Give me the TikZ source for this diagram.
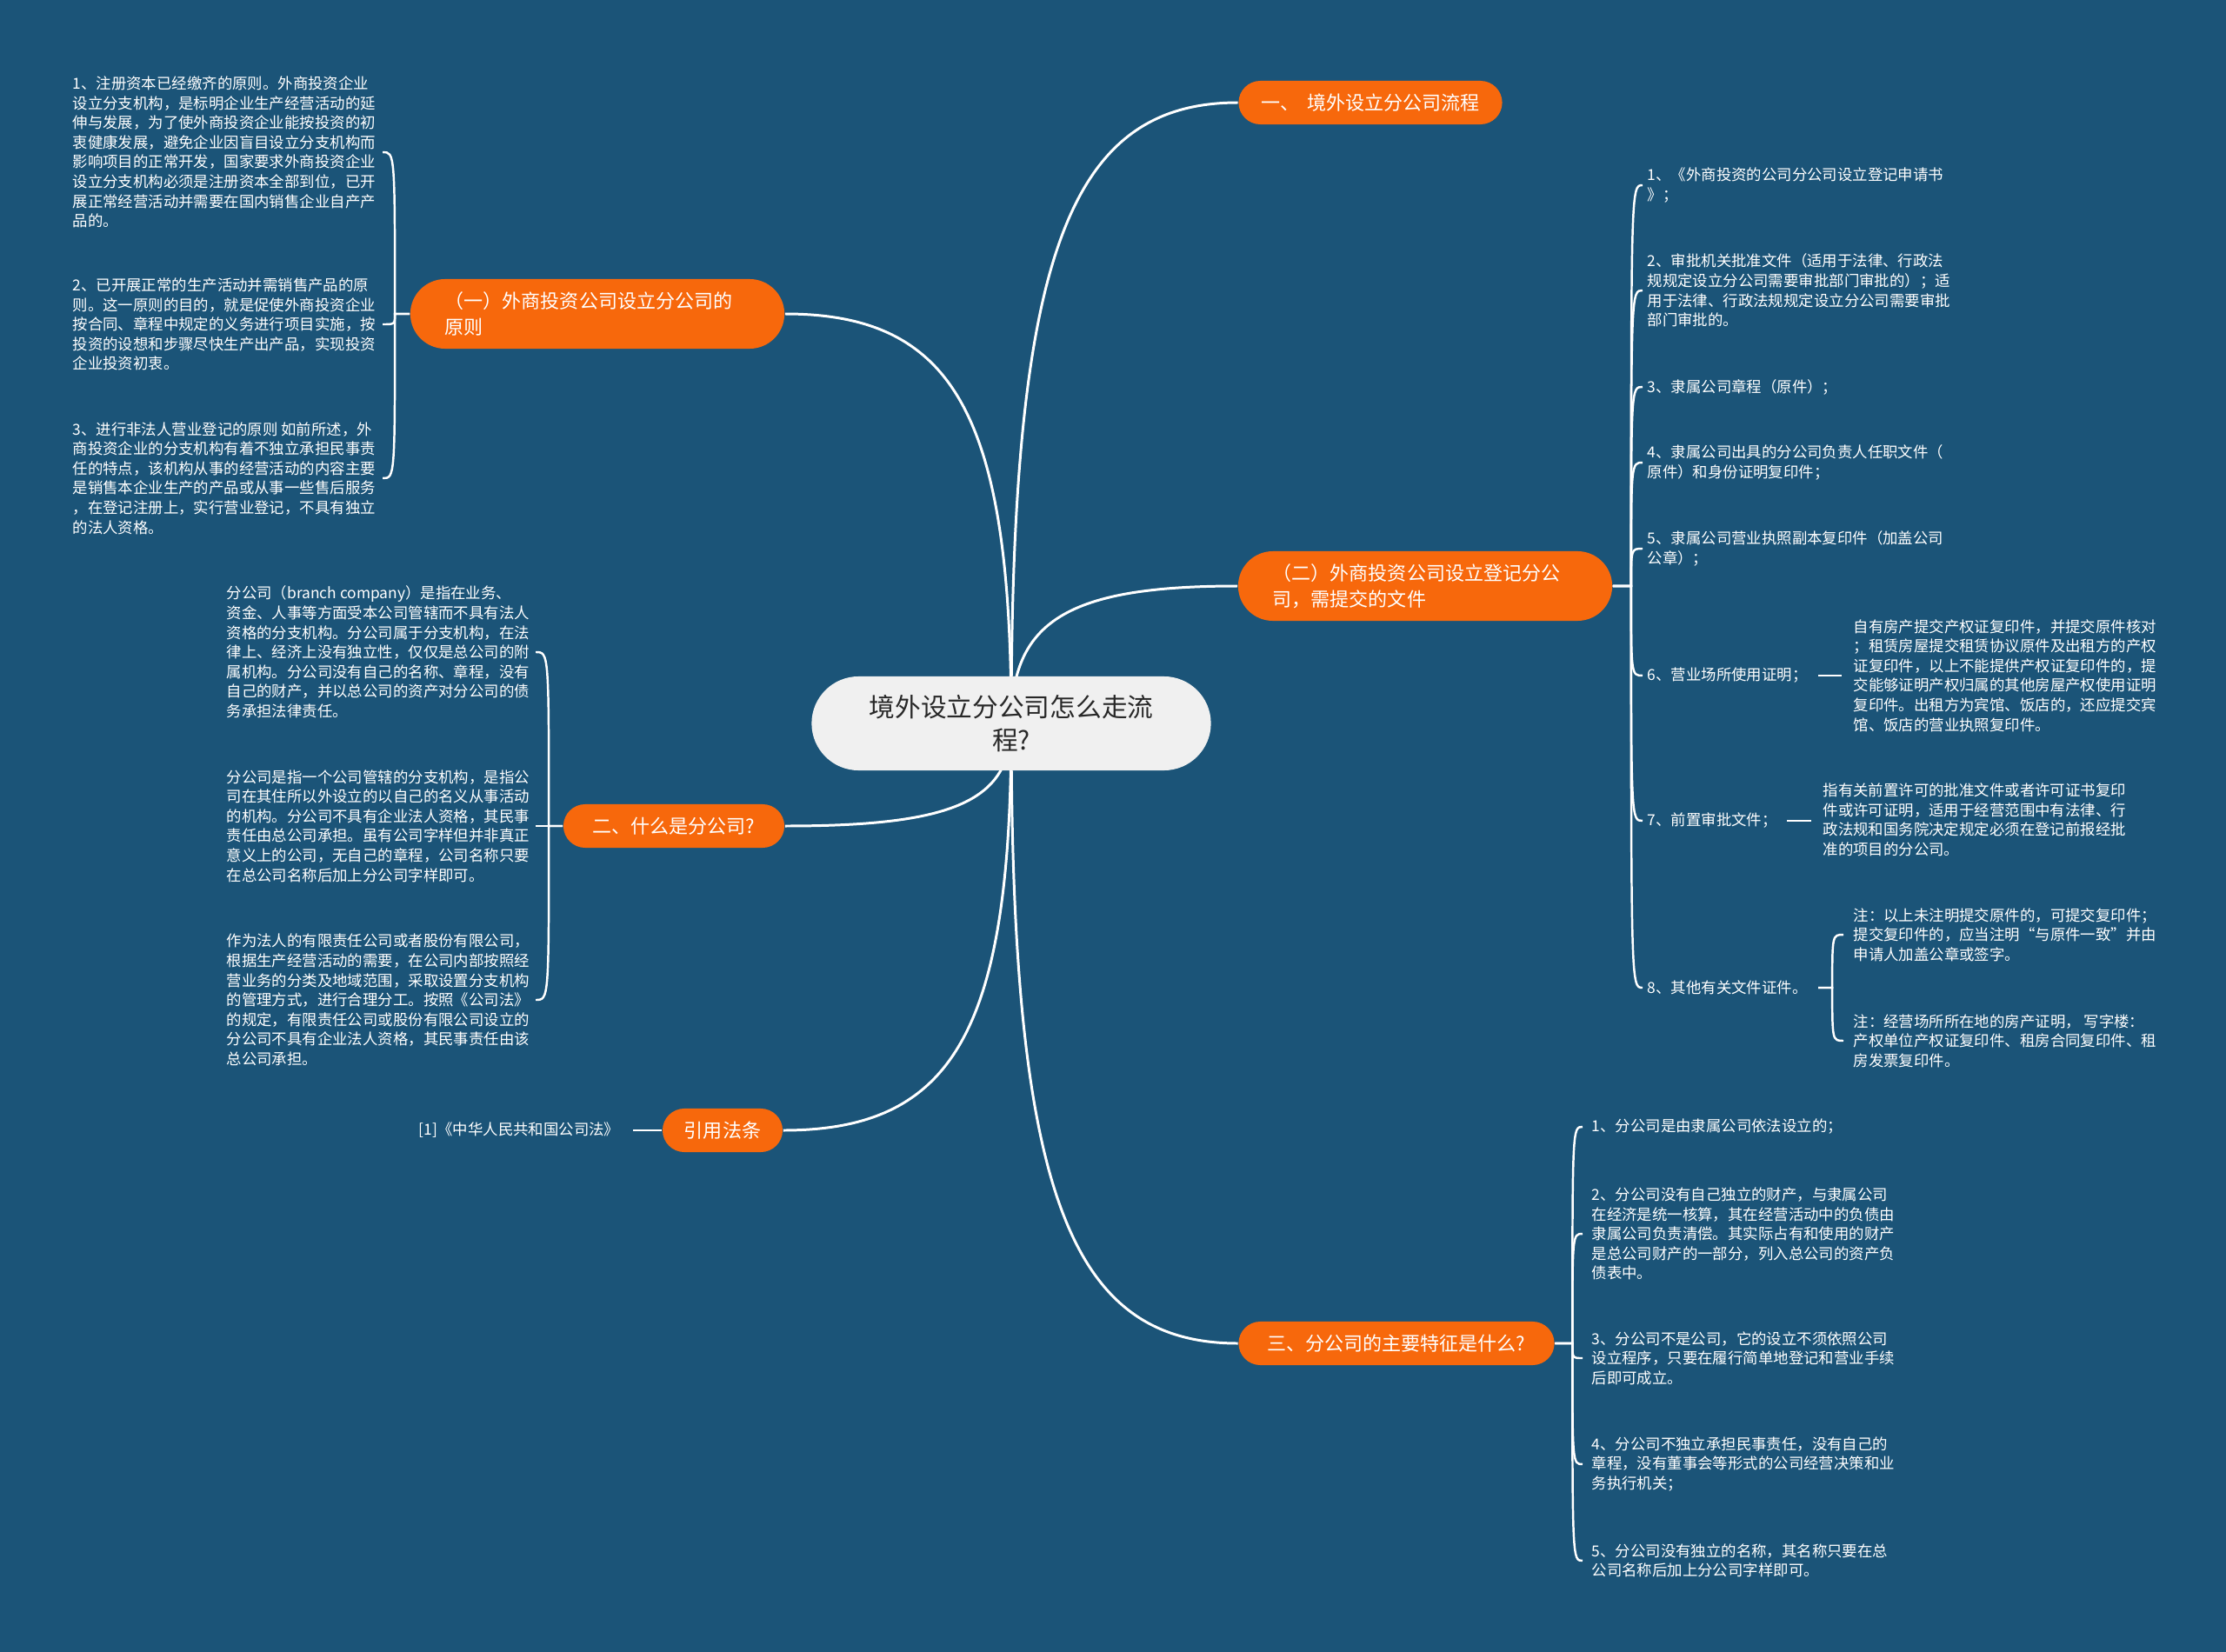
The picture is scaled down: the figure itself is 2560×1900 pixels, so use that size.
\documentclass[tikz,border=0pt]{standalone}
\usepackage{fontspec}
\setmainfont{Noto Sans CJK SC}
\definecolor{bgblue}{RGB}{27,84,120}
\definecolor{orng}{RGB}{247,104,12}
\definecolor{ctrfill}{RGB}{240,240,240}
\definecolor{ctrtext}{RGB}{40,40,40}
\pgfdeclarelayer{bg}\pgfdeclarelayer{edges}\pgfsetlayers{bg,edges,main}
\begin{document}
\begin{tikzpicture}[x=0.01cm,y=-0.01cm,
 txt/.style={font=\fontsize{4.95pt}{6.43pt}\selectfont, text=white, align=left, inner sep=0pt},
 onode/.style={fill=orng, text=white, font=\fontsize{6.26pt}{8.5pt}\selectfont, rounded corners=0.25cm, minimum height=0.5cm, inner sep=0pt},
 obig/.style={onode, rounded corners=0.4cm, minimum height=0.8cm, text width=3.5cm, inner xsep=0.4cm, align=left},
 ctr/.style={fill=ctrfill, text=ctrtext, font=\fontsize{8.45pt}{10.8pt}\selectfont, rounded corners=0.54cm, minimum width=4.59cm, minimum height=1.08cm, align=center, inner sep=0pt},
 trunk/.style={draw=white, line width=0.85pt},
 brace/.style={draw=white, line width=0.7pt}]
\useasboundingbox (0,0) rectangle (2560,1900);
\begin{pgfonlayer}{bg}
\fill[bgblue] (0,0) rectangle (2560,1900);
\end{pgfonlayer}

% main nodes
\node[ctr] (c) at (1163,832) {境外设立分公司怎么走流\\程?};
\node[onode, minimum width=3.03cm] (r1) at (1576,118) {一、\hspace{0.4em}境外设立分公司流程};
\node[obig] (r2) at (1639,674) {（二）外商投资公司设立登记分公\\司，需提交的文件};
\node[onode, minimum width=3.63cm] (r3) at (1606,1545) {三、分公司的主要特征是什么?};
\node[obig] (l1) at (687,361) {（一）外商投资公司设立分公司的\\原则};
\node[onode, minimum width=2.54cm] (l2) at (775,950) {二、什么是分公司?};
\node[onode, minimum width=1.38cm] (l3) at (831,1300) {引用法条};

% right group r2
\node[txt, anchor=west] (a1) at (1894,213) {1、《外商投资的公司分公司设立登记申请书\\》；};
\node[txt, anchor=west] (a2) at (1894,334) {2、审批机关批准文件（适用于法律、行政法\\规规定设立分公司需要审批部门审批的）；适\\用于法律、行政法规规定设立分公司需要审批\\部门审批的。};
\node[txt, anchor=west] (a3) at (1894,445) {3、隶属公司章程（原件）；};
\node[txt, anchor=west] (a4) at (1894,532) {4、隶属公司出具的分公司负责人任职文件（\\原件）和身份证明复印件；};
\node[txt, anchor=west] (a5) at (1894,631) {5、隶属公司营业执照副本复印件（加盖公司\\公章）；};
\node[txt, anchor=west] (a6) at (1894,777) {6、营业场所使用证明；};
\node[txt, anchor=west] (a7) at (1894,944) {7、前置审批文件；};
\node[txt, anchor=west] (a8) at (1894,1136) {8、其他有关文件证件。};
\node[txt, anchor=west] (a6c) at (2131,777) {自有房产提交产权证复印件，并提交原件核对\\；租赁房屋提交租赁协议原件及出租方的产权\\证复印件，以上不能提供产权证复印件的，提\\交能够证明产权归属的其他房屋产权使用证明\\复印件。出租方为宾馆、饭店的，还应提交宾\\馆、饭店的营业执照复印件。};
\node[txt, anchor=west] (a7c) at (2096,943) {指有关前置许可的批准文件或者许可证书复印\\件或许可证明，适用于经营范围中有法律、行\\政法规和国务院决定规定必须在登记前报经批\\准的项目的分公司。};
\node[txt, anchor=west] (a8a) at (2131,1075) {注：以上未注明提交原件的，可提交复印件；\\提交复印件的，应当注明“与原件一致”并由\\申请人加盖公章或签字。};
\node[txt, anchor=west] (a8b) at (2131,1197) {注：经营场所所在地的房产证明， 写字楼：\\产权单位产权证复印件、租房合同复印件、租\\房发票复印件。};

% right group r3
\node[txt, anchor=west] (f1) at (1830,1296) {1、分公司是由隶属公司依法设立的；};
\node[txt, anchor=west] (f2) at (1830,1419) {2、分公司没有自己独立的财产，与隶属公司\\在经济是统一核算，其在经营活动中的负债由\\隶属公司负责清偿。其实际占有和使用的财产\\是总公司财产的一部分，列入总公司的资产负\\债表中。};
\node[txt, anchor=west] (f3) at (1830,1562) {3、分公司不是公司，它的设立不须依照公司\\设立程序，只要在履行简单地登记和营业手续\\后即可成立。};
\node[txt, anchor=west] (f4) at (1830,1684) {4、分公司不独立承担民事责任，没有自己的\\章程，没有董事会等形式的公司经营决策和业\\务执行机关；};
\node[txt, anchor=west] (f5) at (1830,1795) {5、分公司没有独立的名称，其名称只要在总\\公司名称后加上分公司字样即可。};

% left group l1
\node[txt, anchor=west] (b1) at (83,175) {1、注册资本已经缴齐的原则。外商投资企业\\设立分支机构，是标明企业生产经营活动的延\\伸与发展，为了使外商投资企业能按投资的初\\衷健康发展，避免企业因盲目设立分支机构而\\影响项目的正常开发，国家要求外商投资企业\\设立分支机构必须是注册资本全部到位，已开\\展正常经营活动并需要在国内销售企业自产产\\品的。};
\node[txt, anchor=west] (b2) at (83,373) {2、已开展正常的生产活动并需销售产品的原\\则。这一原则的目的，就是促使外商投资企业\\按合同、章程中规定的义务进行项目实施，按\\投资的设想和步骤尽快生产出产品，实现投资\\企业投资初衷。};
\node[txt, anchor=west] (b3) at (83,550) {3、进行非法人营业登记的原则 如前所述，外\\商投资企业的分支机构有着不独立承担民事责\\任的特点，该机构从事的经营活动的内容主要\\是销售本企业生产的产品或从事一些售后服务\\，在登记注册上，实行营业登记，不具有独立\\的法人资格。};

% left group l2
\node[txt, anchor=west] (d1) at (260,750) {分公司（branch company）是指在业务、\\资金、人事等方面受本公司管辖而不具有法人\\资格的分支机构。分公司属于分支机构，在法\\律上、经济上没有独立性，仅仅是总公司的附\\属机构。分公司没有自己的名称、章程，没有\\自己的财产，并以总公司的资产对分公司的债\\务承担法律责任。};
\node[txt, anchor=west] (d2) at (260,950) {分公司是指一个公司管辖的分支机构，是指公\\司在其住所以外设立的以自己的名义从事活动\\的机构。分公司不具有企业法人资格，其民事\\责任由总公司承担。虽有公司字样但并非真正\\意义上的公司，无自己的章程，公司名称只要\\在总公司名称后加上分公司字样即可。};
\node[txt, anchor=west] (d3) at (260,1150) {作为法人的有限责任公司或者股份有限公司，\\根据生产经营活动的需要，在公司内部按照经\\营业务的分类及地域范围，采取设置分支机构\\的管理方式，进行合理分工。按照《公司法》\\的规定，有限责任公司或股份有限公司设立的\\分公司不具有企业法人资格，其民事责任由该\\总公司承担。};

% l3 child
\node[txt, anchor=east] (e1) at (713,1300) {[1]《中华人民共和国公司法》};

\begin{pgfonlayer}{edges}
% trunk curves
\draw[trunk] (c.center) .. controls (1163,297) and (1228,118) .. (r1.west);
\draw[trunk] (c.center) .. controls (1163,714) and (1228,674) .. (r2.west);
\draw[trunk] (c.center) .. controls (1163,1367) and (1228,1545) .. (r3.west);
\draw[trunk] (c.center) .. controls (1163,479) and (1098,361) .. (l1.east);
\draw[trunk] (c.center) .. controls (1163,921) and (1098,950) .. (l2.east);
\draw[trunk] (c.center) .. controls (1163,1183) and (1098,1300) .. (l3.east);

% r2 brace
\coordinate (jr2) at ([xshift=0.21cm]r2.east);
\foreach \n in {a1,a2,a3,a4,a5,a6,a7,a8}
  \draw[brace] (r2.east) -- (jr2) .. controls (jr2 |- \n.west) and (jr2 |- \n.west) .. ([xshift=-0.05cm]\n.west);
\draw[brace] ([xshift=0.12cm]a6.east) -- ([xshift=-0.13cm]a6c.west |- a6.east);
\draw[brace] ([xshift=0.11cm]a7.east) -- ([xshift=-0.13cm]a7c.west |- a7.east);
\coordinate (j8) at ([xshift=0.28cm]a8.east);
\foreach \n in {a8a,a8b}
  \draw[brace] ([xshift=0.12cm]a8.east) -- (j8) .. controls (j8 |- \n.west) and (j8 |- \n.west) .. ([xshift=-0.11cm]\n.west);

% r3 brace
\coordinate (jr3) at ([xshift=0.2cm]r3.east);
\foreach \n in {f1,f2,f3,f4,f5}
  \draw[brace] (r3.east) -- (jr3) .. controls (jr3 |- \n.west) and (jr3 |- \n.west) .. ([xshift=-0.1cm]\n.west);

% l1 brace
\coordinate (jl1) at ([xshift=-0.17cm]l1.west);
\coordinate (hl1) at ([xshift=-0.31cm]l1.west);
\foreach \n in {b1,b2,b3}
  \draw[brace] (l1.west) -- (jl1) .. controls (jl1 |- \n.east) and (jl1 |- \n.east) .. (hl1 |- \n.east);

% l2 brace
\coordinate (jl2) at ([xshift=-0.16cm]l2.west);
\coordinate (hl2) at ([xshift=-0.31cm]l2.west);
\foreach \n in {d1,d2,d3}
  \draw[brace] (l2.west) -- (jl2) .. controls (jl2 |- \n.east) and (jl2 |- \n.east) .. (hl2 |- \n.east);

% l3 line
\draw[brace] ([xshift=0.15cm]e1.east) -- (l3.west);
\end{pgfonlayer}
\end{tikzpicture}
\end{document}
